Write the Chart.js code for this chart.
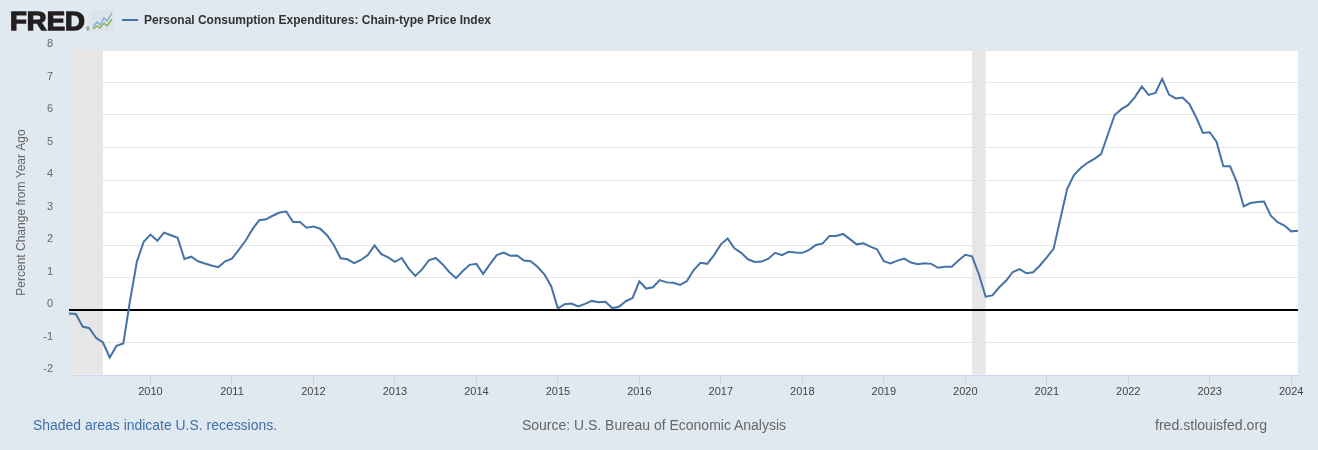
<!DOCTYPE html>
<html><head><meta charset="utf-8">
<script src="https://cdn.jsdelivr.net/npm/chart.js@4.4.1/dist/chart.umd.min.js"></script>
<style>
html,body{margin:0;padding:0;background:#e1e9f0;}
#wrap{position:relative;width:1318px;height:450px;overflow:hidden;background:#e1e9f0;}
#c{position:absolute;left:0;top:0;}
#ov{position:absolute;left:0;top:0;}
</style></head><body>
<div id="wrap">
<canvas id="c" width="1318" height="450"></canvas>
<svg id="ov" width="1318" height="450" xmlns="http://www.w3.org/2000/svg">
  <text x="10" y="30" font-family="Liberation Sans, Arial, sans-serif" font-weight="bold" font-size="25" fill="#231f20" stroke="#231f20" stroke-width="1.3" textLength="75" lengthAdjust="spacingAndGlyphs">FRED</text>
  <text x="86" y="31" font-family="Liberation Sans, Arial, sans-serif" font-size="5" fill="#231f20">®</text>
  <rect x="91" y="10" width="23" height="21" rx="2" fill="#dde3e8"/>
  <polyline points="93,27 97,22 100,25 104,18 107,21 112,13" fill="none" stroke="#7aa7d6" stroke-width="1.3"/>
  <polyline points="93,29 97,26 100,28 104,23 107,26 112,19" fill="none" stroke="#7cb342" stroke-width="1.3"/>
  <line x1="122" y1="20" x2="138" y2="20" stroke="#4572a7" stroke-width="2"/>
  <text id="legendText" x="144" y="24" font-family="Liberation Sans, Arial, sans-serif" font-weight="bold" font-size="12" fill="#333" textLength="347" lengthAdjust="spacingAndGlyphs">Personal Consumption Expenditures: Chain-type Price Index</text>
  <text x="33" y="430" font-family="Liberation Sans, Arial, sans-serif" font-size="14" fill="#3e6fa9" textLength="244" lengthAdjust="spacingAndGlyphs">Shaded areas indicate U.S. recessions.</text>
  <text x="522" y="430" font-family="Liberation Sans, Arial, sans-serif" font-size="14" fill="#666" textLength="264" lengthAdjust="spacingAndGlyphs">Source: U.S. Bureau of Economic Analysis</text>
  <text x="1155" y="430" font-family="Liberation Sans, Arial, sans-serif" font-size="14" fill="#666" textLength="112" lengthAdjust="spacingAndGlyphs">fred.stlouisfed.org</text>
</svg>
</div>
<script>
// ---- DATA ----
const startYear = 2009;
const pceYoY = [
 -0.11,-0.12,-0.51,-0.56,-0.86,-1.00,-1.46,-1.10,-1.03,0.30,1.49,2.10,
 2.32,2.13,2.38,2.30,2.22,1.57,1.64,1.50,1.43,1.37,1.32,1.50,
 1.58,1.85,2.13,2.48,2.76,2.79,2.90,3.00,3.03,2.71,2.71,2.53,
 2.57,2.50,2.30,2.00,1.59,1.56,1.44,1.54,1.69,1.99,1.72,1.62,
 1.48,1.60,1.28,1.05,1.25,1.53,1.60,1.41,1.17,0.98,1.20,1.39,
 1.42,1.11,1.41,1.69,1.77,1.67,1.68,1.52,1.50,1.33,1.10,0.74,
 0.05,0.18,0.20,0.11,0.19,0.28,0.24,0.25,0.06,0.10,0.27,0.37,
 0.88,0.66,0.70,0.92,0.85,0.84,0.77,0.89,1.23,1.45,1.42,1.69,
 2.02,2.20,1.90,1.76,1.56,1.48,1.49,1.58,1.76,1.69,1.79,1.77,
 1.76,1.85,2.00,2.05,2.28,2.28,2.34,2.18,2.02,2.05,1.95,1.87,
 1.50,1.43,1.52,1.58,1.46,1.41,1.44,1.42,1.30,1.33,1.33,1.52,
 1.70,1.65,1.10,0.41,0.45,0.70,0.90,1.17,1.26,1.13,1.16,1.37,
 1.62,1.88,2.80,3.72,4.15,4.37,4.53,4.65,4.80,5.40,6.00,6.18,
 6.31,6.56,6.88,6.62,6.68,7.11,6.63,6.51,6.54,6.34,5.93,5.45,
 5.47,5.18,4.42,4.42,3.93,3.19,3.29,3.32,3.34,2.90,2.70,2.60,
 2.42,2.44
];
const months = [];
for (let i = 0; i < pceYoY.length; i++) {
  const y = startYear + Math.floor(i / 12), m = (i % 12) + 1;
  months.push(y + '-' + (m < 10 ? '0' + m : m));
}
const yearTicks = ['2010','2011','2012','2013','2014','2015','2016','2017','2018','2019','2020','2021','2022','2023','2024'];
const recessions = [['2009-01','2009-06'],['2020-02','2020-04']];
const yTicks = [-2,-1,0,1,2,3,4,5,6,7,8];

function isYearTick(i){ return months[i].endsWith('-01') && yearTicks.includes(months[i].slice(0,4)); }

const bgPlugin = {
  id:'plotBg',
  beforeDraw(chart){
    const {ctx, chartArea:a} = chart;
    ctx.save(); ctx.fillStyle = '#ffffff';
    ctx.fillRect(a.left, a.top, a.right - a.left, a.bottom - a.top);
    ctx.restore();
  }
};
const recessPlugin = {
  id:'recess',
  beforeDatasetsDraw(chart){
    const {ctx, chartArea:a, scales} = chart;
    const x = scales.x, y = scales.y;
    ctx.save();
    ctx.fillStyle = '#e6e6e6';
    recessions.forEach(([s,e]) => {
      const x1 = x.getPixelForValue(months.indexOf(s));
      const x2 = x.getPixelForValue(months.indexOf(e));
      ctx.fillRect(x1, a.top, x2 - x1, a.bottom - a.top - 0.5);
    });
    const y0 = y.getPixelForValue(0);
    ctx.strokeStyle = '#000000'; ctx.lineWidth = 2;
    ctx.beginPath(); ctx.moveTo(a.left, y0); ctx.lineTo(a.right, y0); ctx.stroke();
    ctx.restore();
  }
};

new Chart(document.getElementById('c'), {
  type:'line',
  data:{
    labels: months,
    datasets:[{
      label:'Personal Consumption Expenditures: Chain-type Price Index',
      data: pceYoY,
      borderColor:'#4572a7',
      borderWidth:2,
      pointRadius:0,
      tension:0,
      fill:false
    }]
  },
  options:{
    responsive:false,
    animation:false,
    devicePixelRatio:1,
    layout:{padding:{top:50,right:20,bottom:50,left:0}},
    plugins:{legend:{display:false}, tooltip:{enabled:false}},
    scales:{
      x:{
        type:'category',
        offset:false,
        grid:{
          drawOnChartArea:false, drawTicks:true, tickLength:10,
          color:(c)=> isYearTick(c.index) ? '#ccd6eb' : 'rgba(0,0,0,0)',
          lineWidth:1
        },
        border:{display:true, color:'#ccd6eb', width:1},
        ticks:{
          autoSkip:false, maxRotation:0, minRotation:0, padding:0,
          color:'#444', font:{family:'Liberation Sans', size:11},
          callback:(v,i)=> isYearTick(i) ? months[i].slice(0,4) : ''
        },
        afterFit:(s)=>{ s.height = 25; }
      },
      y:{
        min:-2, max:8,
        afterBuildTicks:(s)=>{ s.ticks = yTicks.map(v=>({value:v})); },
        ticks:{padding:16, labelOffset:-6, color:'#666', font:{family:'Liberation Sans', size:11}},
        grid:{color:'#e6e6e6', drawTicks:false, lineWidth:1},
        border:{display:false},
        title:{display:true, text:'Percent Change from Year Ago', color:'#666',
               font:{family:'Liberation Sans', size:12}, padding:{top:14,bottom:0}},
        afterFit:(s)=>{ s.width = 69; }
      }
    }
  },
  plugins:[bgPlugin, recessPlugin]
});
</script>
</body></html>
